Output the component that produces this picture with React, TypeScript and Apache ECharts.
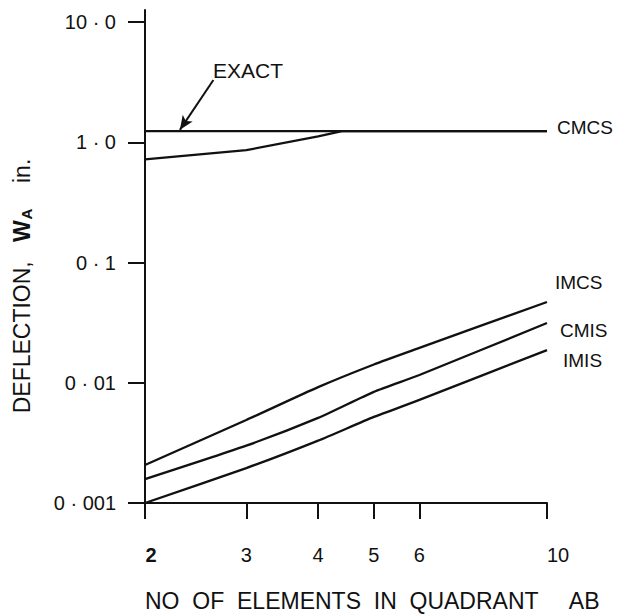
import React, { useEffect, useRef } from 'react';
import * as echarts from 'echarts';

// Number of elements in quadrant AB (x, log scale)
const xTicks = [2, 3, 4, 5, 6, 10];
const yTicks = [0.001, 0.01, 0.1, 1, 10];
const yTickLabels = ['0 · 001', '0 · 01', '0 · 1', '1 · 0', '10 · 0'];

const elements = [2, 3, 4, 5, 6, 10];
const exactX = [2, 10];
const exactW = [1.24, 1.24];
const cmcsX = [2, 3, 4, 4.4, 10];
const cmcsW = [0.72, 0.86, 1.12, 1.24, 1.24];
const imcsW = [0.00207, 0.0049, 0.0092, 0.0142, 0.0195, 0.047];
const cmisW = [0.00158, 0.003, 0.0051, 0.0084, 0.0116, 0.0314];
const imisW = [0.001, 0.00195, 0.0033, 0.0052, 0.0072, 0.0187];

// EXACT pointer (tail, tip) in data coordinates
const arrowTail = [2.63, 3.3];
const arrowTip = [2.3, 1.27];

const FONT = 'Liberation Sans';
const INK = '#111';

const pairs = (xs: number[], ys: number[]) => xs.map((x, i) => [x, ys[i]]);

export default function App() {
  const ref = useRef<HTMLDivElement>(null);
  useEffect(() => {
    if (!ref.current) return;
    const chart = echarts.init(ref.current, null, { renderer: 'svg' });
    const lineStyle = { color: INK, width: 2.3 };
    const endLabel = (name: string, offset: number[]) => ({
      show: true,
      formatter: name,
      distance: 5,
      offset,
      fontFamily: FONT,
      fontSize: 19,
      color: INK,
    });
    const yLabel = (v: number) => {
      const i = yTicks.findIndex((t) => Math.abs(Math.log10(t) - Math.log10(v)) < 1e-6);
      return i >= 0 ? yTickLabels[i] : '';
    };
    chart.setOption({
      animation: false,
      backgroundColor: '#fff',
      grid: { left: 145, right: 78, top: 10, bottom: 113, containLabel: false, outerBoundsMode: 'none' },
      xAxis: {
        type: 'log',
        logBase: 10,
        min: 2,
        max: 10,
        axisLine: { show: true, lineStyle: { color: INK, width: 2 } },
        axisTick: { show: true, inside: false, length: 16, customValues: xTicks, lineStyle: { color: INK, width: 2 } },
        axisLabel: {
          customValues: xTicks,
          margin: 42,
          fontFamily: FONT,
          fontSize: 20,
          color: INK,
          formatter: (v: number) => {
            const r = Math.round(v);
            if (r === 2) return '{b|2}';
            if (r === 10) return '{t|10}';
            return String(r);
          },
          rich: {
            b: { fontFamily: FONT, fontSize: 20, fontWeight: 'bold', color: INK, padding: [0, 0, 0, 12] },
            t: { fontFamily: FONT, fontSize: 20, color: INK, padding: [0, 0, 0, 22] },
          },
        },
        splitLine: { show: false },
        minorTick: { show: false },
      },
      yAxis: {
        type: 'log',
        logBase: 10,
        min: 0.001,
        max: 12.6,
        axisLine: { show: true, lineStyle: { color: INK, width: 2 } },
        axisTick: { show: true, inside: false, length: 17, customValues: yTicks, lineStyle: { color: INK, width: 2 } },
        axisLabel: {
          customValues: yTicks,
          margin: 29,
          fontFamily: FONT,
          fontSize: 20,
          color: INK,
          formatter: yLabel,
        },
        splitLine: { show: false },
        minorTick: { show: false },
      },
      series: [
        {
          name: 'EXACT',
          type: 'line',
          data: pairs(exactX, exactW),
          symbol: 'none',
          lineStyle,
          markLine: {
            silent: true,
            symbol: ['none', 'arrow'],
            symbolSize: [9, 14],
            lineStyle: { color: INK, width: 2, type: 'solid' },
            label: { show: false },
            data: [[{ coord: arrowTail }, { coord: arrowTip }]],
          },
        },
        {
          name: 'CMCS',
          type: 'line',
          data: pairs(cmcsX, cmcsW),
          symbol: 'none',
          lineStyle,
          endLabel: endLabel('CMCS', [5, -4]),
        },
        {
          name: 'IMCS',
          type: 'line',
          data: pairs(elements, imcsW),
          symbol: 'none',
          smooth: 0.2,
          lineStyle,
          endLabel: endLabel('IMCS', [3, -19]),
        },
        {
          name: 'CMIS',
          type: 'line',
          data: pairs(elements, cmisW),
          symbol: 'none',
          smooth: 0.2,
          lineStyle,
          endLabel: endLabel('CMIS', [8, 7]),
        },
        {
          name: 'IMIS',
          type: 'line',
          data: pairs(elements, imisW),
          symbol: 'none',
          smooth: 0.2,
          lineStyle,
          endLabel: endLabel('IMIS', [11, 10]),
        },
      ],
      graphic: [
        {
          type: 'text',
          left: 213,
          top: 60,
          style: { text: 'EXACT', fontFamily: FONT, fontSize: 21, fill: INK },
        },
        {
          type: 'text',
          left: 145,
          top: 589,
          style: { text: 'NO  OF  ELEMENTS  IN  QUADRANT     AB', fontFamily: FONT, fontSize: 23, fill: INK },
        },
        {
          type: 'text',
          x: 22,
          y: 286,
          rotation: Math.PI / 2,
          style: {
            text: 'DEFLECTION,   {w|W}{s|A}    in.',
            fontFamily: FONT,
            fontSize: 23,
            fill: INK,
            align: 'center',
            verticalAlign: 'middle',
            rich: {
              w: { fontFamily: FONT, fontSize: 23, fontWeight: 'bold', fill: INK },
              s: { fontFamily: FONT, fontSize: 15, fontWeight: 'bold', fill: INK, padding: [8, 0, 0, 1] },
            },
          },
        },
      ],
    });
    return () => chart.dispose();
  }, []);
  return <div ref={ref} style={{ position: 'absolute', left: 0, top: 0, width: 625, height: 616 }} />;
}
